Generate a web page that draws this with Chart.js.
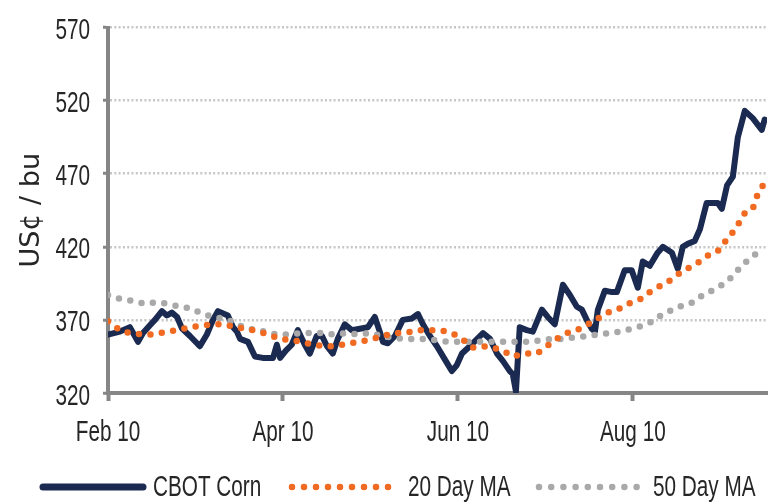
<!DOCTYPE html>
<html><head><meta charset="utf-8">
<script src="https://cdn.jsdelivr.net/npm/chart.js@4.4.1/dist/chart.umd.min.js"></script>
<style>html,body{margin:0;padding:0;background:#fff;}</style>
</head><body>
<canvas id="c" width="773" height="503"></canvas>
<script>
// ---- data (x = position along time axis, ticks at Feb 10 / Apr 10 / Jun 10 / Aug 10) ----
const tickLabels = ['Feb 10', 'Apr 10', 'Jun 10', 'Aug 10'];
const tickPos = [0, 60, 120, 180];

const cornX = [0,4.1,7.5,10.3,12,14.7,16.1,18.5,20.2,21.9,23.7,25.4,28.1,31.5,33.9,36,37.7,41.1,42.9,44.2,45.3,48,50.4,53.1,56.6,57.9,59,61,63,65.1,67.5,69.2,71.6,73.4,75.1,77.1,78.8,81.2,83.6,86.4,89.1,91.5,93.2,94.3,96,98.4,101.1,104.2,106.3,108,110.4,112.8,115.5,117.9,119.6,121.4,124.1,128.6,131,133.4,135.4,137.8,138.8,139.9,141.2,143.6,145.7,148.8,150.8,153.2,156,158.4,160.8,162.5,164.2,165.9,167,168,170.4,172.8,174.5,177.2,179.6,181.7,183.4,185.8,188.5,190.3,193.4,195.4,197.1,198.8,201.2,203,205.3,209.1,210.5,212.3,214.3,216,218.4,221.1,224.2,225.2];
const cornY = [360,362,365,355,361,367,370,376,373,375,372,364,359,352,360,370,376,373,365,362,357,355,345,344,344,353,344,349,353,363,353,347,359,359,352,347,357,367,363,364,365,372,362,355,354,359,370,371,374,367,359,352,343,335,339,347,352,361,357,347,342,335,333,321,365,363,362,377,372,367,394,387,379,377,370,364,362,377,390,389,389,404,404,392,410,407,416,420,416,405,420,422,424,432,450,450,446,462,468,495,513,508,500,507];

const ma20X = [0,4.8,8.2,12,16.1,20.2,24,28.1,32.2,36,40.1,43.5,47.7,51.4,55.2,59,63.1,66.5,70.3,74.4,78.5,82.3,86.4,90.5,94.3,98.4,101.8,105.9,109.7,113.8,117.9,121.4,125.1,128.6,132,135.4,138.8,143,147.1,150.5,153.9,157.4,160.8,164.6,168,171.4,174.8,178.3,182.4,185.8,189.2,192.7,196.1,199.5,203,206.4,209.8,212.5,215.6,217.7,221.1,222.8,225.2];
const ma20Y = [369,362,361,360,360,362,363,365,366,367,367,365,364,362,360,357,356,355,353,352,352,354,355,357,359,361,361,363,363,363,361,357,351,352,351,349,345,347,347,352,357,361,363,367,371,375,377,381,384,389,393,397,402,406,410,415,418,426,433,442,446,456,464];

const ma50X = [0,4.8,8.6,12.7,16.8,20.6,24.7,28.1,31.5,35.7,39.1,42.5,46.3,50.4,53.8,57.9,61.7,65.8,69.2,73.4,77.1,81.9,85.7,89.8,93.9,97.4,101.1,104.6,108.7,112.8,116.6,120.7,124.1,128.6,132,136.1,140.2,144,148.1,152.2,156,160.1,164.2,168,172.1,175.5,179.6,183.4,186.8,190.3,193.7,197.1,200.6,204,208.1,211.5,214.3,217.7,221.1,224.5];
const ma50Y = [387,384,383,381,382,381,379,378,375,372,371,369,365,363,362,360,360,361,361,361,360,361,360,361,359,358,357,357,357,356,355,355,355,355,355,355,355,355,356,357,357,358,359,360,361,362,364,366,369,374,377,380,382,387,391,395,400,408,413,420];

const seriesNames = ['CBOT Corn', '20 Day MA', '50 Day MA'];
const yTitle = 'US¢ / bu';

// ---- styles ----
const NAVY = '#1b2a50', ORANGE = '#f06a22', GREY = '#a9a9a9', AXIS = '#868686';
const FONT = "'Liberation Sans',Arial,sans-serif";
const TXT = '#262626';
const SX = 0.715;           // horizontal condensing of the narrow label face

// condensed text: labels in the Liberation face are drawn horizontally condensed
const narrowPlugin = {
  id: 'narrowText',
  beforeDraw(chart) {
    const ctx = chart.ctx;
    if (!ctx.__narrow) {
      const orig = ctx.fillText;
      ctx.fillText = function (t, x, y, mw) {
        if (/Liberation Sans/.test(this.font)) {
          this.save();
          this.translate(x, y);
          this.scale(SX, 1);
          orig.call(this, t, 0, 0);
          this.restore();
        } else if (mw === undefined) {
          orig.call(this, t, x, y);
        } else {
          orig.call(this, t, x, y, mw);
        }
      };
      ctx.__narrow = true;
    }
    const ys = chart.scales.y;
    if (ys && !ys.__shift) {
      const od = ys.drawLabels.bind(ys);
      ys.drawLabels = function (a) {
        const c = this.ctx; c.save(); c.translate(0, 3.5); od(a); c.restore();
      };
      ys.__shift = true;
    }
  }
};

const pts = (xs, ys) => xs.map((x, i) => ({x, y: ys[i]}));

const legendPlugin = {
  id: 'bottomLegend',
  afterDraw(chart) {
    const ctx = chart.ctx;
    const y = 487;
    const items = [
      {x0: 43, x1: 143, tx: 153, dash: [], w: 7, c: NAVY},
      {x0: 292, x1: 389, tx: 408, dash: [0, 12], w: 6.5, c: ORANGE},
      {x0: 539, x1: 637, tx: 653, dash: [0, 12.2], w: 6.5, c: GREY}
    ];
    ctx.save();
    items.forEach((it, i) => {
      ctx.beginPath();
      ctx.setLineDash(it.dash);
      ctx.lineCap = 'round';
      ctx.lineWidth = it.w;
      ctx.strokeStyle = it.c;
      ctx.moveTo(it.x0, y);
      ctx.lineTo(it.x1, y);
      ctx.stroke();
      ctx.setLineDash([]);
      ctx.fillStyle = TXT;
      ctx.font = '29px ' + FONT;
      ctx.textBaseline = 'middle';
      ctx.textAlign = 'left';
      ctx.fillText(seriesNames[i], it.tx, y + 1);
    });
    ctx.restore();
  }
};

new Chart(document.getElementById('c'), {
  type: 'line',
  data: {
    datasets: [
      {label: seriesNames[0], data: pts(cornX, cornY), borderColor: NAVY, borderWidth: 6,
       borderJoinStyle: 'round', borderCapStyle: 'round', pointRadius: 0, tension: 0, order: 3},
      {label: seriesNames[1], data: pts(ma20X, ma20Y), borderColor: ORANGE, borderWidth: 6.5,
       borderDash: [0, 11.5], borderCapStyle: 'round', pointRadius: 0, tension: 0, order: 1},
      {label: seriesNames[2], data: pts(ma50X, ma50Y), borderColor: GREY, borderWidth: 6.5,
       borderDash: [0, 11.5], borderCapStyle: 'round', pointRadius: 0, tension: 0, order: 2}
    ]
  },
  options: {
    responsive: false,
    animation: false,
    layout: {padding: {left: 0, right: 6, top: 17, bottom: 0}},
    plugins: {legend: {display: false}, tooltip: {enabled: false}},
    scales: {
      x: {
        type: 'linear', min: 0, max: 226,
        afterBuildTicks: s => { s.ticks = tickPos.map(v => ({value: v})); },
        afterFit: s => { s.height = 110; },
        ticks: {
          autoSkip: false, maxRotation: 0, padding: 15, color: TXT,
          font: {family: FONT, size: 29},
          callback: v => tickLabels[tickPos.indexOf(v)]
        },
        grid: {drawOnChartArea: false, drawTicks: true, tickLength: 8, tickColor: AXIS, tickWidth: 4},
        border: {color: AXIS, width: 4}
      },
      y: {
        min: 320, max: 570,
        afterFit: s => { s.width = 108; },
        ticks: {stepSize: 50, padding: 13, color: TXT, font: {family: FONT, size: 29, lineHeight: 1}},
        grid: {color: '#c6c6c6', lineWidth: 2.5, tickLength: 5, tickColor: AXIS, tickWidth: 3, tickBorderDash: [1, 0]},
        border: {color: AXIS, width: 4, dash: [2, 2.3]},
        title: {display: true, text: yTitle, color: TXT,
                font: {family: "'DejaVu Sans',sans-serif", size: 27},
                padding: {top: 16, bottom: 0}}
      }
    }
  },
  plugins: [narrowPlugin, legendPlugin]
});
</script>
</body></html>
